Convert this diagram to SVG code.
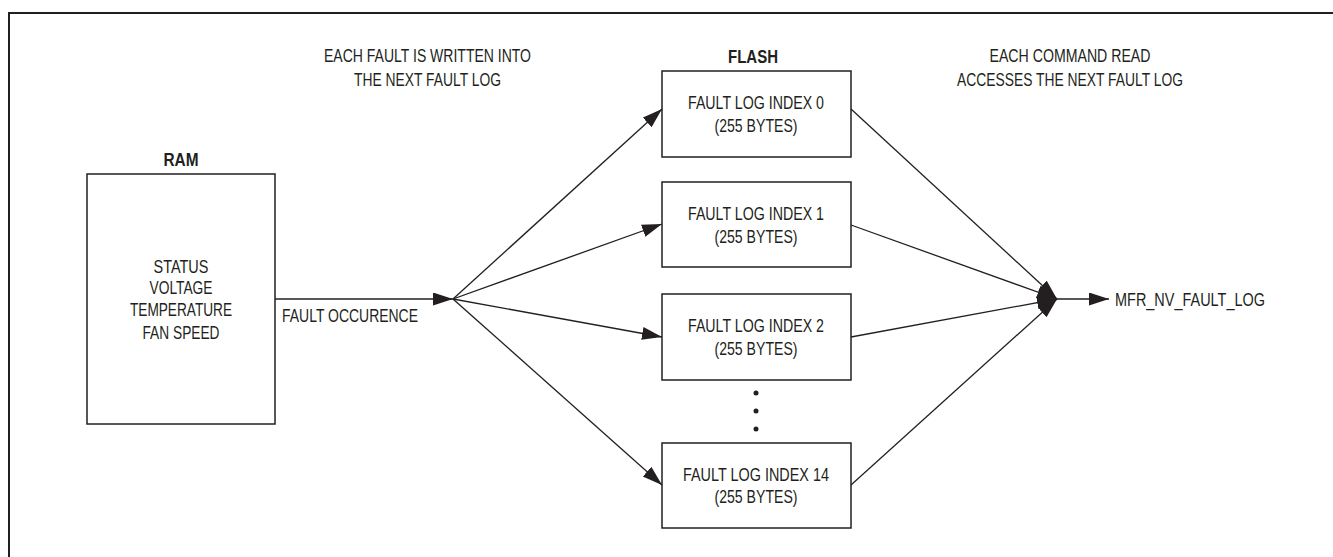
<svg xmlns="http://www.w3.org/2000/svg" width="1333" height="557" viewBox="0 0 1333 557">
<defs>
<marker id="arr" markerUnits="userSpaceOnUse" markerWidth="21" markerHeight="14" refX="20" refY="6.5" orient="auto">
<path d="M0,0 L20,6.5 L0,13 z" fill="#231f20"/>
</marker>
<style>
.t{font-family:"Liberation Sans Narrow","Liberation Sans",Arial,sans-serif;font-size:19px;fill:#231f20;text-anchor:middle}
.b{font-weight:bold}
.l{text-anchor:start}
.box{fill:#fff;stroke:#231f20;stroke-width:1.5}
.c{fill:none;stroke:#231f20;stroke-width:1.3}
.ca{fill:none;stroke:#231f20;stroke-width:1.3;marker-end:url(#arr)}
</style>
</defs>
<rect width="1333" height="557" fill="#fff"/>
<rect x="9" y="13" width="1340" height="560" fill="none" stroke="#231f20" stroke-width="2"/>

<g id="top-labels">
<text class="t" x="427.5" y="62" textLength="207" lengthAdjust="spacingAndGlyphs">EACH FAULT IS WRITTEN INTO</text>
<text class="t" x="427.5" y="86" textLength="147" lengthAdjust="spacingAndGlyphs">THE NEXT FAULT LOG</text>
<text class="t" x="1070" y="62" textLength="161" lengthAdjust="spacingAndGlyphs">EACH COMMAND READ</text>
<text class="t" x="1070" y="86" textLength="226" lengthAdjust="spacingAndGlyphs">ACCESSES THE NEXT FAULT LOG</text>
<text class="t b" x="753" y="63" textLength="50" lengthAdjust="spacingAndGlyphs">FLASH</text>
</g>

<g id="ram">
<text class="t b" x="181" y="166" textLength="35" lengthAdjust="spacingAndGlyphs">RAM</text>
<rect class="box" x="87" y="174" width="188" height="250"/>
<text class="t" x="181" y="273" textLength="55" lengthAdjust="spacingAndGlyphs">STATUS</text>
<text class="t" x="181" y="294" textLength="63" lengthAdjust="spacingAndGlyphs">VOLTAGE</text>
<text class="t" x="181" y="316" textLength="102" lengthAdjust="spacingAndGlyphs">TEMPERATURE</text>
<text class="t" x="181" y="339" textLength="77" lengthAdjust="spacingAndGlyphs">FAN SPEED</text>
</g>

<g id="log0">
<rect class="box" x="662" y="71" width="189" height="86"/>
<text class="t" x="756" y="109" textLength="136" lengthAdjust="spacingAndGlyphs">FAULT LOG INDEX 0</text>
<text class="t" x="756" y="132" textLength="83" lengthAdjust="spacingAndGlyphs">(255 BYTES)</text>
</g>
<g id="log1">
<rect class="box" x="662" y="182" width="189" height="85"/>
<text class="t" x="756" y="220" textLength="136" lengthAdjust="spacingAndGlyphs">FAULT LOG INDEX 1</text>
<text class="t" x="756" y="243" textLength="83" lengthAdjust="spacingAndGlyphs">(255 BYTES)</text>
</g>
<g id="log2">
<rect class="box" x="662" y="294" width="189" height="86"/>
<text class="t" x="756" y="332" textLength="136" lengthAdjust="spacingAndGlyphs">FAULT LOG INDEX 2</text>
<text class="t" x="756" y="355" textLength="83" lengthAdjust="spacingAndGlyphs">(255 BYTES)</text>
</g>
<g id="dots" fill="#231f20">
<circle cx="756" cy="393" r="2.5"/>
<circle cx="756" cy="411" r="2.5"/>
<circle cx="756" cy="429" r="2.5"/>
</g>
<g id="log14">
<rect class="box" x="662" y="443" width="189" height="85"/>
<text class="t" x="756" y="481" textLength="146" lengthAdjust="spacingAndGlyphs">FAULT LOG INDEX 14</text>
<text class="t" x="756" y="503" textLength="83" lengthAdjust="spacingAndGlyphs">(255 BYTES)</text>
</g>

<g id="out">
<text class="t l" x="1115" y="306" textLength="150" lengthAdjust="spacingAndGlyphs">MFR_NV_FAULT_LOG</text>
</g>

<g id="connectors">
<line class="ca" x1="275" y1="299" x2="453" y2="299"/>
<text class="t l" x="282" y="322" textLength="136" lengthAdjust="spacingAndGlyphs">FAULT OCCURENCE</text>
<line class="ca" x1="453" y1="299" x2="662" y2="109"/>
<line class="ca" x1="453" y1="299" x2="662" y2="224"/>
<line class="ca" x1="453" y1="299" x2="662" y2="337"/>
<line class="ca" x1="453" y1="299" x2="662" y2="485"/>
<line class="ca" x1="851" y1="109" x2="1057" y2="299"/>
<line class="ca" x1="851" y1="225" x2="1057" y2="299"/>
<line class="ca" x1="851" y1="337" x2="1057" y2="299"/>
<line class="ca" x1="851" y1="485" x2="1057" y2="299"/>
<line class="ca" x1="1057" y1="299" x2="1109" y2="299"/>
</g>
</svg>
